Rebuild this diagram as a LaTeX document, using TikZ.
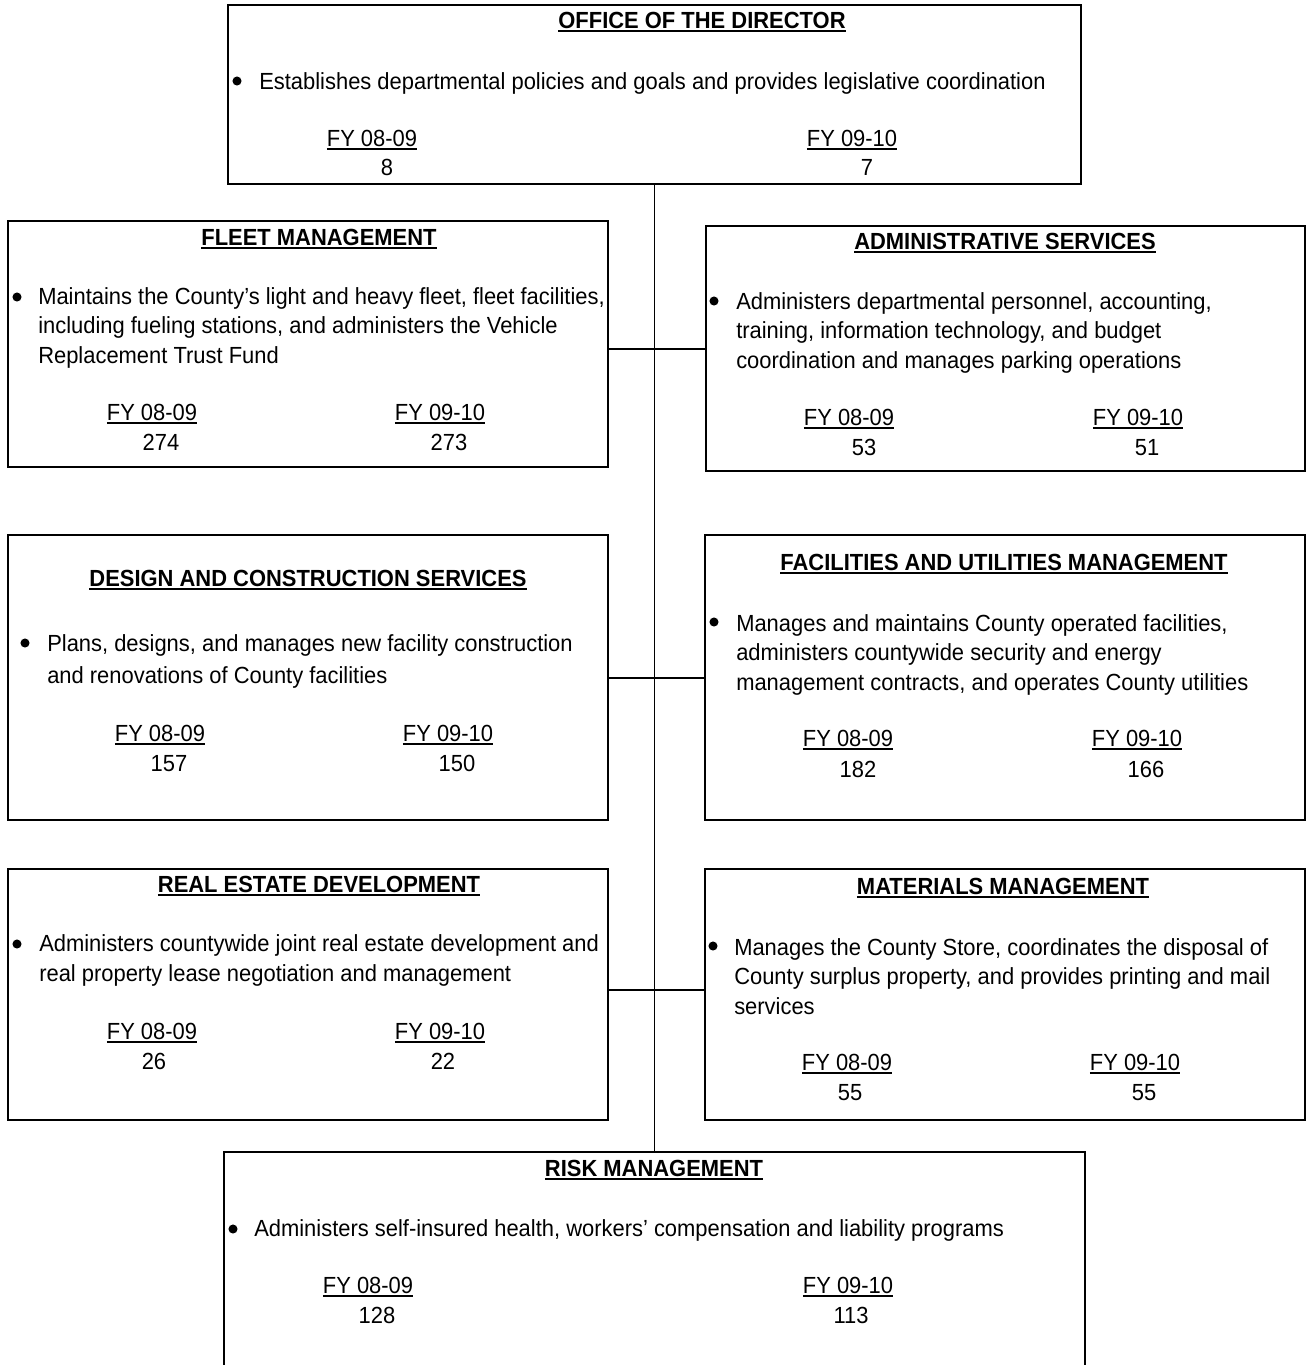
\documentclass[tikz,border=0pt]{standalone}
\usepackage{fontspec}
\setmainfont{Liberation Sans}[FakeStretch=0.94]
\usetikzlibrary{fit}
\newcommand{\ulbar}[1]{\leavevmode\setbox0\hbox{#1}\rlap{\rule[-2.7pt]{\wd0}{1.1pt}}\box0}
\begin{document}
\begin{tikzpicture}[x=0.75pt,y=-0.75pt,
  every node/.style={font=\fontsize{17.5pt}{22.1pt}\selectfont},
  box/.style={draw, line width=1.5pt, inner sep=0pt},
  link/.style={line width=0.8pt},
  ttl/.style={font=\fontsize{17.5pt}{22.1pt}\selectfont\bfseries, anchor=base, inner sep=0pt},
  txt/.style={anchor=base west, align=left, inner sep=0pt},
  fy/.style={anchor=base, inner sep=0pt},
  dot/.style={circle, fill, inner sep=0pt, minimum size=6.8pt}]
\useasboundingbox (0,0) rectangle (1307,1365);
\clip (0,0) rectangle (1307,1365);

% boxes
\node[box, fit={(228,5) (1081,184)}] (office) {};
\node[box, fit={(8,221) (608,467)}] (fleet) {};
\node[box, fit={(706,226) (1305,471)}] (admin) {};
\node[box, fit={(8,535) (608,820)}] (design) {};
\node[box, fit={(705,535) (1305,820)}] (facil) {};
\node[box, fit={(8,869) (608,1120)}] (realest) {};
\node[box, fit={(705,869) (1305,1120)}] (mater) {};
\node[box, fit={(224,1152) (1085,1420)}] (risk) {};

% connectors
\coordinate (j1) at (655,349);
\coordinate (j2) at (655,678);
\coordinate (j3) at (655,990);
\draw[link] (office.south) -- (risk.north);
\draw[link] (fleet.east |- j1) -- (admin.west |- j1);
\draw[link] (design.east |- j2) -- (facil.west |- j2);
\draw[link] (realest.east |- j3) -- (mater.west |- j3);

% office
\node[ttl] (t1) at (702,28) {\ulbar{OFFICE OF THE DIRECTOR}};
\node[dot] (d1) at (237,81) {};
\node[txt] (b1) at (259,89) {Establishes departmental policies and goals and provides legislative coordination};
\node[fy] (f1a) at (372,146) {\ulbar{FY 08-09}};
\node[fy] (n1a) at (387,175) {8};
\node[fy] (f1b) at (852,146) {\ulbar{FY 09-10}};
\node[fy] (n1b) at (867,175) {7};

% fleet
\node[ttl] (t2) at (319,245) {\ulbar{FLEET MANAGEMENT}};
\node[dot] (d2) at (17,297) {};
\node[txt] (b2) at (38,363) {Maintains the County’s light and heavy fleet, fleet facilities,\\including fueling stations, and administers the Vehicle\\Replacement Trust Fund};
\node[fy] (f2a) at (152,420) {\ulbar{FY 08-09}};
\node[fy] (n2a) at (161,450) {274};
\node[fy] (f2b) at (440,420) {\ulbar{FY 09-10}};
\node[fy] (n2b) at (449,450) {273};

% admin
\node[ttl] (t3) at (1005,249) {\ulbar{ADMINISTRATIVE SERVICES}};
\node[dot] (d3) at (714,301) {};
\node[txt] (b3) at (736,368) {Administers departmental personnel, accounting,\\training, information technology, and budget\\coordination and manages parking operations};
\node[fy] (f3a) at (849,425) {\ulbar{FY 08-09}};
\node[fy] (n3a) at (864,455) {53};
\node[fy] (f3b) at (1138,425) {\ulbar{FY 09-10}};
\node[fy] (n3b) at (1147,455) {51};

% design
\node[ttl] (t4) at (308,586) {\ulbar{DESIGN AND CONSTRUCTION SERVICES}};
\node[dot] (d4) at (25,643) {};
\node[txt, font=\fontsize{17.5pt}{24pt}\selectfont] (b4) at (47,683) {Plans, designs, and manages new facility construction\\and renovations of County facilities};
\node[fy] (f4a) at (160,741) {\ulbar{FY 08-09}};
\node[fy] (n4a) at (169,771) {157};
\node[fy] (f4b) at (448,741) {\ulbar{FY 09-10}};
\node[fy] (n4b) at (457,771) {150};

% facilities
\node[ttl] (t5) at (1004,570) {\ulbar{FACILITIES AND UTILITIES MANAGEMENT}};
\node[dot] (d5) at (714,622) {};
\node[txt] (b5) at (736,690) {Manages and maintains County operated facilities,\\administers countywide security and energy\\management contracts, and operates County utilities};
\node[fy] (f5a) at (848,746) {\ulbar{FY 08-09}};
\node[fy] (n5a) at (858,777) {182};
\node[fy] (f5b) at (1137,746) {\ulbar{FY 09-10}};
\node[fy] (n5b) at (1146,777) {166};

% real estate
\node[ttl] (t6) at (319,892) {\ulbar{REAL ESTATE DEVELOPMENT}};
\node[dot] (d6) at (17,944) {};
\node[txt] (b6) at (39,981) {Administers countywide joint real estate development and\\real property lease negotiation and management};
\node[fy] (f6a) at (152,1039) {\ulbar{FY 08-09}};
\node[fy] (n6a) at (154,1069) {26};
\node[fy] (f6b) at (440,1039) {\ulbar{FY 09-10}};
\node[fy] (n6b) at (443,1069) {22};

% materials
\node[ttl] (t7) at (1003,894) {\ulbar{MATERIALS MANAGEMENT}};
\node[dot] (d7) at (713,946) {};
\node[txt] (b7) at (734,1014) {Manages the County Store, coordinates the disposal of\\County surplus property, and provides printing and mail\\services};
\node[fy] (f7a) at (847,1070) {\ulbar{FY 08-09}};
\node[fy] (n7a) at (850,1100) {55};
\node[fy] (f7b) at (1135,1070) {\ulbar{FY 09-10}};
\node[fy] (n7b) at (1144,1100) {55};

% risk
\node[ttl] (t8) at (654,1176) {\ulbar{RISK MANAGEMENT}};
\node[dot] (d8) at (233,1229) {};
\node[txt] (b8) at (254,1236) {Administers self-insured health, workers’ compensation and liability programs};
\node[fy] (f8a) at (368,1293) {\ulbar{FY 08-09}};
\node[fy] (n8a) at (377,1323) {128};
\node[fy] (f8b) at (848,1293) {\ulbar{FY 09-10}};
\node[fy] (n8b) at (851,1323) {113};
\end{tikzpicture}
\end{document}
